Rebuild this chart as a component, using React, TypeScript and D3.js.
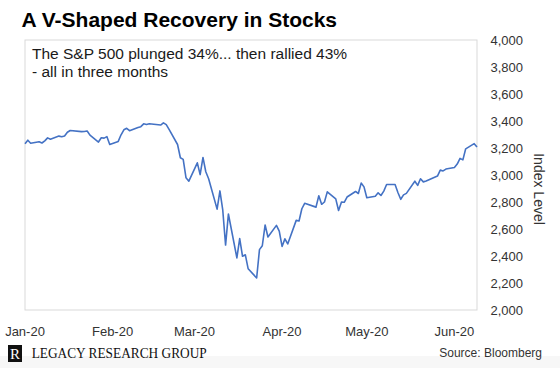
import * as React from 'react';
import * as d3 from 'd3';

// S&P 500 daily closes
const tradingDays = [
    '2020-01-01', '2020-01-02', '2020-01-03', '2020-01-06', '2020-01-07', '2020-01-08', '2020-01-09', '2020-01-10',
    '2020-01-13', '2020-01-14', '2020-01-15', '2020-01-16', '2020-01-17', '2020-01-21', '2020-01-22', '2020-01-23',
    '2020-01-24', '2020-01-27', '2020-01-28', '2020-01-29', '2020-01-30', '2020-01-31',
    '2020-02-03', '2020-02-04', '2020-02-05', '2020-02-06', '2020-02-07', '2020-02-10', '2020-02-11', '2020-02-12',
    '2020-02-13', '2020-02-14', '2020-02-18', '2020-02-19', '2020-02-20', '2020-02-21', '2020-02-24', '2020-02-25',
    '2020-02-26', '2020-02-27', '2020-02-28',
    '2020-03-02', '2020-03-03', '2020-03-04', '2020-03-05', '2020-03-06', '2020-03-09', '2020-03-10', '2020-03-11',
    '2020-03-12', '2020-03-13', '2020-03-16', '2020-03-17', '2020-03-18', '2020-03-19', '2020-03-20', '2020-03-23',
    '2020-03-24', '2020-03-25', '2020-03-26', '2020-03-27', '2020-03-30', '2020-03-31',
    '2020-04-01', '2020-04-02', '2020-04-03', '2020-04-06', '2020-04-07', '2020-04-08', '2020-04-09', '2020-04-13',
    '2020-04-14', '2020-04-15', '2020-04-16', '2020-04-17', '2020-04-20', '2020-04-21', '2020-04-22', '2020-04-23',
    '2020-04-24', '2020-04-27', '2020-04-28', '2020-04-29', '2020-04-30',
    '2020-05-01', '2020-05-04', '2020-05-05', '2020-05-06', '2020-05-07', '2020-05-08', '2020-05-11', '2020-05-12',
    '2020-05-13', '2020-05-14', '2020-05-15', '2020-05-18', '2020-05-19', '2020-05-20', '2020-05-21', '2020-05-22',
    '2020-05-26', '2020-05-27', '2020-05-28', '2020-05-29',
    '2020-06-01', '2020-06-02', '2020-06-03', '2020-06-04', '2020-06-05', '2020-06-08', '2020-06-09',
];

const closes = [
    3231, 3258, 3235, 3246, 3237, 3253, 3275, 3265,
    3288, 3283, 3289, 3317, 3330, 3321, 3322, 3326,
    3295, 3244, 3276, 3273, 3284, 3226,
    3249, 3298, 3335, 3346, 3328, 3352, 3358, 3379,
    3374, 3380, 3370, 3386, 3373, 3338, 3226, 3128,
    3116, 2979, 2954,
    3090, 3003, 3130, 3024, 2972, 2747, 2882, 2741,
    2481, 2711, 2386, 2529, 2398, 2409, 2305, 2237,
    2447, 2476, 2630, 2541, 2627, 2585,
    2471, 2527, 2489, 2664, 2659, 2750, 2790, 2762,
    2846, 2783, 2800, 2875, 2823, 2737, 2799, 2798,
    2837, 2878, 2863, 2940, 2912,
    2831, 2843, 2868, 2848, 2881, 2930, 2930, 2870,
    2820, 2853, 2864, 2954, 2923, 2972, 2949, 2955,
    2992, 3036, 3030, 3044,
    3056, 3081, 3123, 3112, 3194, 3232, 3207,
];

const monthTicks = ['2020-01-01', '2020-02-01', '2020-03-01', '2020-04-01', '2020-05-01', '2020-06-01'];
const monthLabels = ['Jan-20', 'Feb-20', 'Mar-20', 'Apr-20', 'May-20', 'Jun-20'];
const levelTicks = [2000, 2200, 2400, 2600, 2800, 3000, 3200, 3400, 3600, 3800, 4000];

interface Point {
    date: Date;
    value: number;
}

const parse = d3.timeParse('%Y-%m-%d');

class App extends React.Component {

    render() {
        let width = 560;
        let height = 368;
        let left = 25, right = 477, top = 40, bottom = 310;

        let data: Point[] = tradingDays.map((d, i) => ({ date: parse(d) as Date, value: closes[i] }));

        let xScale = d3.scaleTime()
            .domain([parse('2020-01-01') as Date, parse('2020-06-09') as Date])
            .range([left, right]);
        let yScale = d3.scaleLinear().domain([2000, 4000]).range([bottom, top]);

        let line = d3.line<Point>()
            .x(d => xScale(d.date))
            .y(d => yScale(d.value));

        let font = '"Liberation Sans", Arial, sans-serif';

        let yLabels = levelTicks.map(t => <text key={t}
                                                x={523}
                                                y={yScale(t)}
                                                dy="0.35em"
                                                textAnchor="end"
                                                fontSize={13}
                                                fill="#333">{d3.format(',')(t)}</text>);

        let xLabels = monthTicks.map((m, i) => <text key={m}
                                                    x={xScale(parse(m) as Date)}
                                                    y={335.5}
                                                    textAnchor="middle"
                                                    fontSize={13}
                                                    fill="#333">{monthLabels[i]}</text>);

        return <svg width={width} height={height} fontFamily={font}
                    style={{ position: 'absolute', left: 0, top: 0, background: '#fff' }}>
            <rect x={0} y={356} width={width} height={12} fill="#f7f7f7" />
            <text x={21.5} y={26.7} fontSize={21} fontWeight="bold" fill="#000">A V-Shaped Recovery in Stocks</text>

            <rect x={left} y={top} width={right - left} height={bottom - top}
                  fill="none" stroke="#d9d9d9" strokeWidth={1} />

            <text x={32} y={59.3} fontSize={15.5} fill="#1a1a1a">The S&amp;P 500 plunged 34%... then rallied 43%</text>
            <text x={32} y={77} fontSize={15.5} fill="#1a1a1a">- all in three months</text>

            <path d={line(data) || ''} fill="none" stroke="#4472c4" strokeWidth={1.6} strokeLinejoin="round" />

            {yLabels}
            {xLabels}

            <text transform="translate(539,189) rotate(90)" textAnchor="middle" dy="0.35em"
                  fontSize={14} fill="#333">Index Level</text>

            <rect x={8} y={345} width={14} height={17} fill="#111" />
            <text x={15} y={359} textAnchor="middle" fontSize={15} fill="#fff"
                  fontFamily='"Liberation Serif", "Times New Roman", serif'>R</text>
            <text x={31.7} y={357.7} fontSize={14} fill="#111" textLength={175} lengthAdjust="spacingAndGlyphs"
                  fontFamily='"Liberation Serif", "Times New Roman", serif'>LEGACY RESEARCH GROUP</text>
            <text x={542} y={357} textAnchor="end" fontSize={12} fill="#333">Source: Bloomberg</text>
        </svg>
    }
}

export default App;
